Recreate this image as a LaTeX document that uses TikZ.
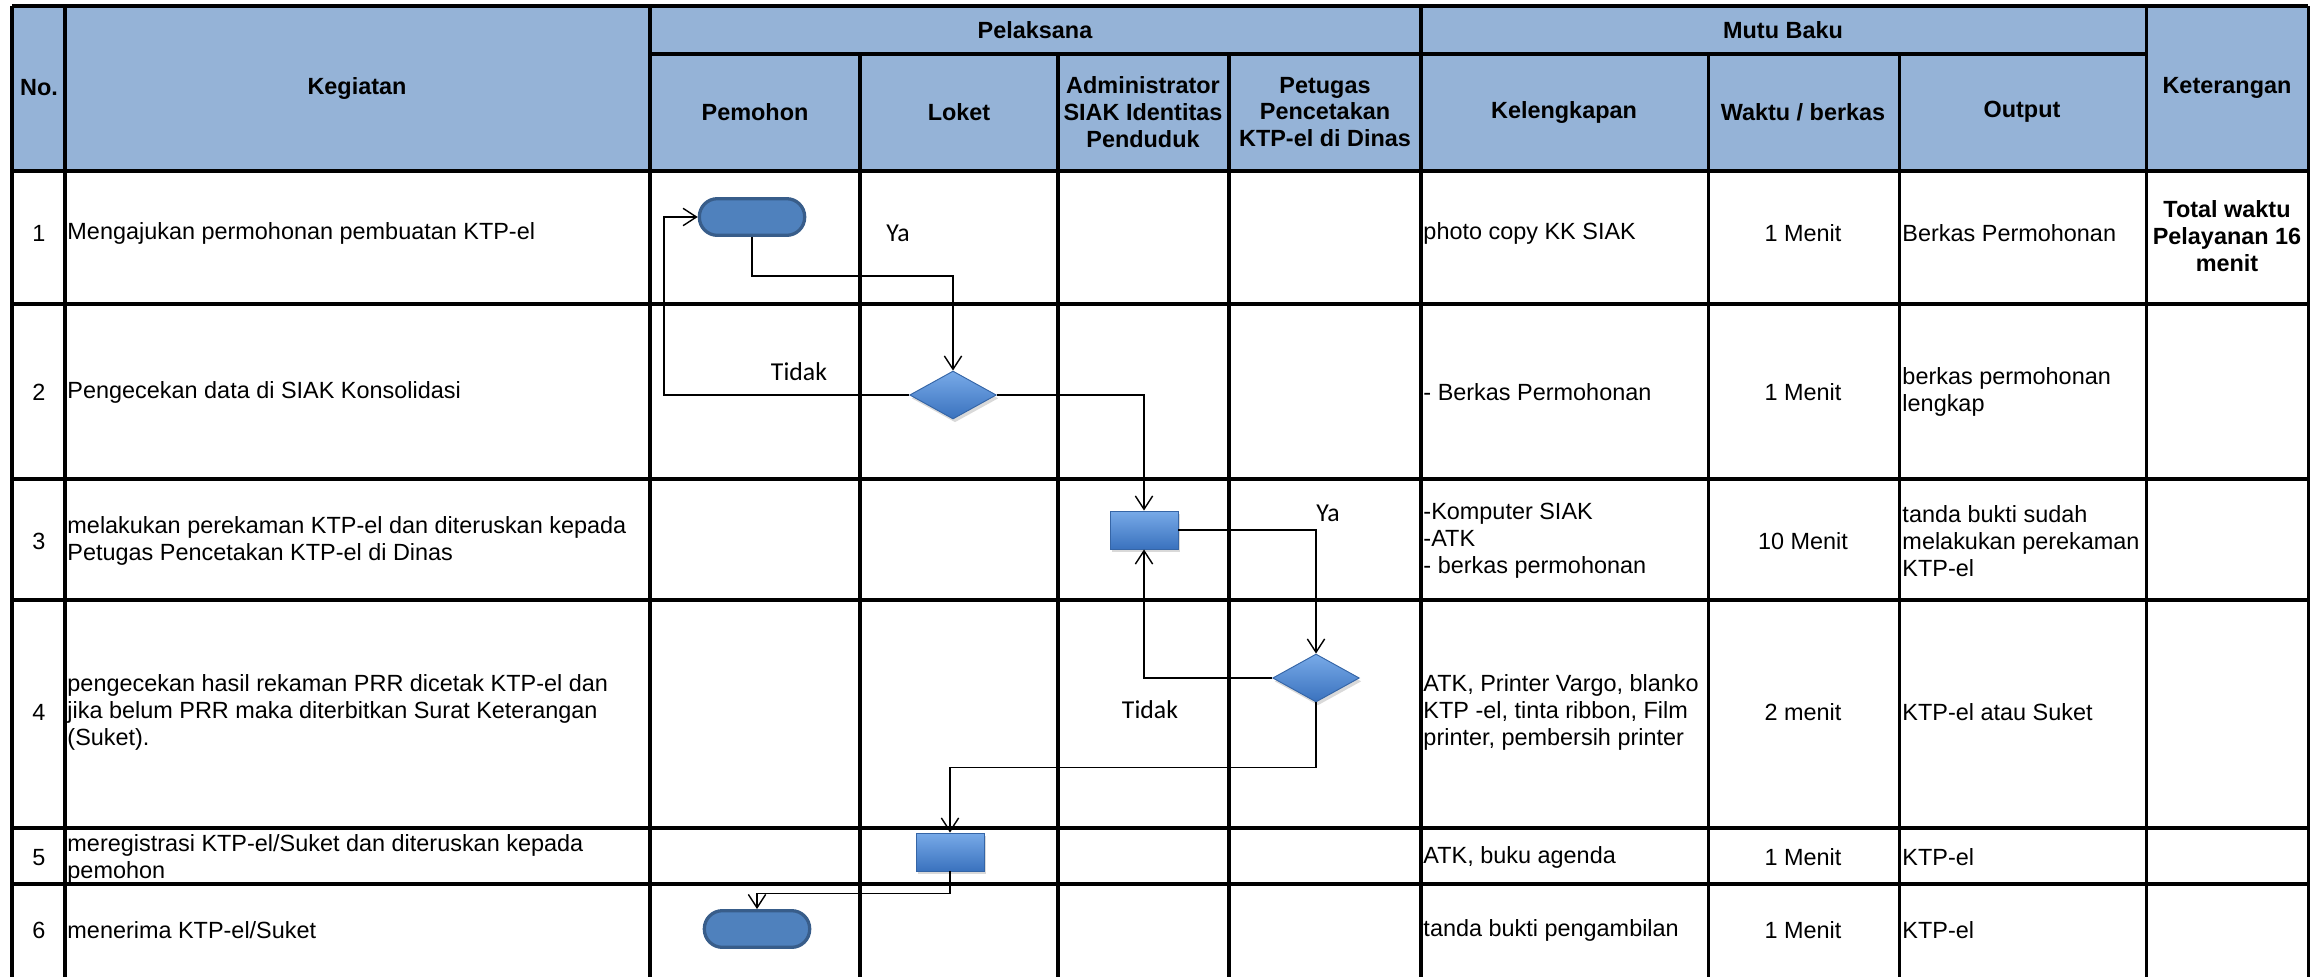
\documentclass[tikz,border=0pt]{standalone}
\usepackage{fontspec}
\setmainfont{Liberation Sans}
\newfontfamily\calibri{Carlito}
\usetikzlibrary{arrows.meta,shapes.geometric,shadows}

\definecolor{headblue}{HTML}{95B3D7}
\definecolor{termfill}{HTML}{4F81BD}
\definecolor{termline}{HTML}{385D8A}
\definecolor{boxtop}{HTML}{78AAE8}
\definecolor{boxbottom}{HTML}{3A72BE}
\definecolor{boxline}{HTML}{3565A6}

\begin{document}
\begin{tikzpicture}[x=0.015cm, y=-0.015cm,
    every node/.style={font={\fontsize{10}{11.5}\selectfont}, inner sep=0pt},
    grid/.style={line width=1.3pt},
    headtext/.style={font={\fontsize{10}{11.5}\selectfont\bfseries}, align=center},
    celltext/.style={anchor=west, align=left},
    midtext/.style={align=center},
    terminal/.style={rectangle, draw=termline, fill=termfill, line width=1.4pt, rounded corners=0.27cm, minimum width=1.58cm, minimum height=0.55cm},
    process/.style={rectangle, draw=boxline, top color=boxtop, bottom color=boxbottom, minimum width=1.02cm, minimum height=0.57cm, drop shadow={shadow xshift=0.03cm, shadow yshift=-0.05cm, opacity=0.3}},
    decision/.style={diamond, draw=boxline, top color=boxtop, bottom color=boxbottom, minimum width=1.3cm, minimum height=0.72cm, drop shadow={shadow xshift=0.03cm, shadow yshift=-0.05cm, opacity=0.3}},
    flow/.style={-{Straight Barb[length=0.2cm, width=0.26cm]}, line width=0.6pt},
    flowlabel/.style={font={\calibri\fontsize{11}{13}\selectfont}}]

    \useasboundingbox (0,0) rectangle (2312,977);

    \fill[headblue] (12,6) rectangle (2308,171);

    \draw[grid] (12,6) -- (2308,6);
    \draw[grid] (650,54) -- (2146,54);
    \draw[grid] (12,171) -- (2308,171);
    \draw[grid] (12,304) -- (2308,304);
    \draw[grid] (12,479) -- (2308,479);
    \draw[grid] (12,600) -- (2308,600);
    \draw[grid] (12,828) -- (2308,828);
    \draw[grid] (12,884) -- (2308,884);

    \draw[grid] (12,6) -- (12,977);
    \draw[grid] (65,6) -- (65,977);
    \draw[grid] (650,6) -- (650,977);
    \draw[grid] (860,54) -- (860,977);
    \draw[grid] (1058,54) -- (1058,977);
    \draw[grid] (1229,54) -- (1229,977);
    \draw[grid] (1421,6) -- (1421,977);
    \draw[grid] (1708,54) -- (1708,977);
    \draw[grid] (1899,54) -- (1899,977);
    \draw[grid] (2146,6) -- (2146,977);
    \draw[grid] (2308,6) -- (2308,977);

    \node[headtext] (hno) at (39,88) {No.};
    \node[headtext] (hkeg) at (357,88) {Kegiatan};
    \node[headtext] (hpel) at (1035,30) {Pelaksana};
    \node[headtext] (hmutu) at (1783,30) {Mutu Baku};
    \node[headtext] (hket) at (2227,88) {Keterangan};
    \node[headtext] (hpem) at (755,112) {Pemohon};
    \node[headtext] (hlok) at (959,112) {Loket};
    \node[headtext] (hadm) at (1143,112) {Administrator\\SIAK Identitas\\Penduduk};
    \node[headtext] (hpet) at (1325,112) {Petugas\\Pencetakan\\KTP-el di Dinas};
    \node[headtext] (hkel) at (1564,112) {Kelengkapan};
    \node[headtext] (hwkt) at (1803,112) {Waktu / berkas};
    \node[headtext] (hout) at (2022,112) {Output};

    \node (no1) at (39,233) {1};
    \node (no2) at (39,392) {2};
    \node (no3) at (39,541) {3};
    \node (no4) at (39,712) {4};
    \node (no5) at (39,858) {5};
    \node (no6) at (39,930) {6};

    \node[celltext] (keg1) at (67,233) {Mengajukan permohonan pembuatan KTP-el};
    \node[celltext] (keg2) at (67,392) {Pengecekan data di SIAK Konsolidasi};
    \node[celltext] (keg3) at (67,541) {melakukan perekaman KTP-el dan diteruskan kepada\\Petugas Pencetakan KTP-el di Dinas};
    \node[celltext] (keg4) at (67,712) {pengecekan hasil rekaman PRR dicetak KTP-el dan\\jika belum PRR maka diterbitkan Surat Keterangan\\(Suket).};
    \node[celltext] (keg5) at (67,859) {meregistrasi KTP-el/Suket dan diteruskan kepada\\pemohon};
    \node[celltext] (keg6) at (67,930) {menerima KTP-el/Suket};

    \node[celltext] (kel1) at (1423,233) {photo copy KK SIAK};
    \node[celltext] (kel2) at (1423,392) {- Berkas Permohonan};
    \node[celltext] (kel3) at (1423,541) {-Komputer SIAK\\-ATK\\- berkas permohonan};
    \node[celltext] (kel4) at (1423,712) {ATK, Printer Vargo, blanko\\KTP -el, tinta ribbon, Film\\printer, pembersih printer};
    \node[celltext] (kel5) at (1423,857) {ATK, buku agenda};
    \node[celltext] (kel6) at (1423,930) {tanda bukti pengambilan};

    \node[midtext] (wkt1) at (1803,233) {1 Menit};
    \node[midtext] (wkt2) at (1803,392) {1 Menit};
    \node[midtext] (wkt3) at (1803,541) {10 Menit};
    \node[midtext] (wkt4) at (1803,712) {2 menit};
    \node[midtext] (wkt5) at (1803,857) {1 Menit};
    \node[midtext] (wkt6) at (1803,930) {1 Menit};

    \node[celltext] (out1) at (1902,233) {Berkas Permohonan};
    \node[celltext] (out2) at (1902,392) {berkas permohonan\\lengkap};
    \node[celltext] (out3) at (1902,541) {tanda bukti sudah\\melakukan perekaman\\KTP-el};
    \node[celltext] (out4) at (1902,712) {KTP-el atau Suket};
    \node[celltext] (out5) at (1902,857) {KTP-el};
    \node[celltext] (out6) at (1902,930) {KTP-el};

    \node[headtext] (ket1) at (2227,236) {Total waktu\\Pelayanan 16\\menit};

    \node[terminal] (mulai) at (752,217) {};
    \node[decision] (cek1) at (953,395) {};
    \node[process] (rekam) at (1144,530) {};
    \node[decision] (cek2) at (1316,678) {};
    \node[process] (regis) at (950,852) {};
    \node[terminal] (selesai) at (757,929) {};
    \coordinate (balik) at (664,217);

    \draw[flow] (mulai.south) -- ++(0,39) -| (cek1.north);
    \draw[flow] (cek1.west) -| (balik) -- (mulai.west);
    \draw[flow] (cek1.east) -| (rekam.north);
    \draw[flow] (rekam.east) -| (cek2.north);
    \draw[flow] (cek2.west) -| (rekam.south);
    \draw[flow] (cek2.south) -- ++(0,65) -| (regis.north);
    \draw[flow] (regis.south) -- ++(0,22) -| (selesai.north);

    \node[flowlabel] (ya1) at (898,233) {Ya};
    \node[flowlabel] (tidak1) at (799,372) {Tidak};
    \node[flowlabel] (ya2) at (1328,513) {Ya};
    \node[flowlabel] (tidak2) at (1150,710) {Tidak};

\end{tikzpicture}
\end{document}
